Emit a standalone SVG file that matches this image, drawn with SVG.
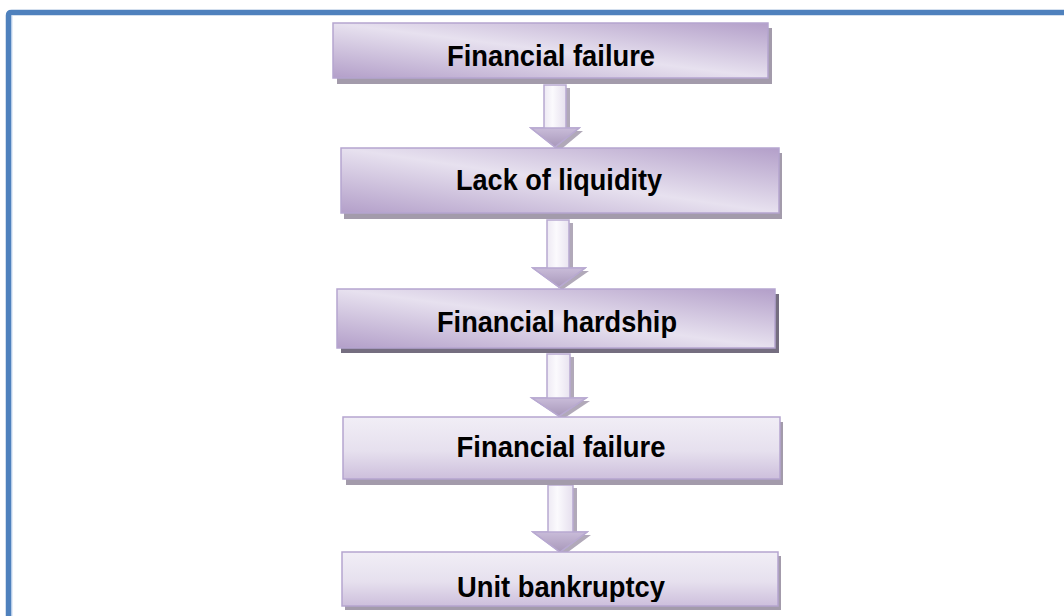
<svg xmlns="http://www.w3.org/2000/svg" width="1064" height="616" viewBox="0 0 1064 616">
  <defs>
    <!-- diagonal shading: purple corners, pale band along the main diagonal -->
    <linearGradient id="boxShade" x1="0" y1="1" x2="1" y2="0">
      <stop offset="0" stop-color="#b39fc9"/>
      <stop offset="0.5" stop-color="#e7e1ef"/>
      <stop offset="1" stop-color="#b39fc9"/>
    </linearGradient>
    <linearGradient id="boxShadeLight" x1="0" y1="0" x2="0" y2="1">
      <stop offset="0" stop-color="#f1eef6"/>
      <stop offset="0.55" stop-color="#e6e0ee"/>
      <stop offset="1" stop-color="#cdbfdc"/>
    </linearGradient>
    <linearGradient id="shaftShade" x1="0" y1="0" x2="1" y2="0">
      <stop offset="0" stop-color="#d8cfe4"/>
      <stop offset="0.45" stop-color="#fbfafd"/>
      <stop offset="1" stop-color="#d2c7e0"/>
    </linearGradient>
    <linearGradient id="headShade" x1="0" y1="0" x2="0" y2="1">
      <stop offset="0" stop-color="#c9bcd9"/>
      <stop offset="1" stop-color="#a898ba"/>
    </linearGradient>
    <clipPath id="lastClip">
      <rect x="340" y="550" width="450" height="52"/>
    </clipPath>
    <style>
      .box { stroke: #b5a5cf; stroke-width: 1.5; }
      .shadow { fill: #a39bab; }
      .label { font-family: "Liberation Sans", Arial, sans-serif; font-weight: bold; font-size: 29px; fill: #000; text-anchor: middle; }
      .arrow { fill: url(#shaftShade); stroke: #b8a9d1; stroke-width: 1.5; stroke-linejoin: miter; }
      .ashadow { fill: #b1a9b9; }
    </style>
  </defs>

  <rect width="1064" height="616" fill="#ffffff"/>

  <!-- page frame -->
  <g id="frame">
    <path d="M8.5 616 V15.5 Q8.5 12.5 11.5 12.5 H1064" fill="none" stroke="#4f81bd" stroke-width="5.5"/>
    <line x1="11.8" y1="16" x2="11.8" y2="616" stroke="#a9c3e6" stroke-width="1"/>
  </g>

  <!-- connectors: block arrows -->
  <g id="connectors">
    <g id="arrow1">
      <path class="ashadow" d="M548 88 H570 V131 H583 L559 151 L535 131 H548 Z"/>
      <path class="arrow" d="M544 85 H566 V128 H579 L555 147 L531 128 H544 Z"/>
      <path d="M531 128 H579 L555 147 Z" fill="url(#headShade)" stroke="#b8a9d1" stroke-width="1.5"/>
    </g>
    <g id="arrow2">
      <path class="ashadow" d="M551 223 H573 V271 H589 L562 290 L537 271 H551 Z"/>
      <path class="arrow" d="M547 220 H569 V268 H585 L559 287 L533 268 H547 Z"/>
      <path d="M533 268 H585 L559 287 Z" fill="url(#headShade)" stroke="#b8a9d1" stroke-width="1.5"/>
    </g>
    <g id="arrow3">
      <path class="ashadow" d="M551 357 H574 V401 H590 L563 419 L536 401 H551 Z"/>
      <path class="arrow" d="M547 354 H570 V398 H586 L559 416 L532 398 H547 Z"/>
      <path d="M532 398 H586 L559 416 Z" fill="url(#headShade)" stroke="#b8a9d1" stroke-width="1.5"/>
    </g>
    <g id="arrow4">
      <path class="ashadow" d="M552 488 H577 V535 H591 L564 555 L537 535 H552 Z"/>
      <path class="arrow" d="M548 485 H573 V532 H587 L560 552 L533 532 H548 Z"/>
      <path d="M533 532 H587 L560 552 Z" fill="url(#headShade)" stroke="#b8a9d1" stroke-width="1.5"/>
    </g>
  </g>

  <!-- nodes -->
  <g id="node1">
    <rect class="shadow" x="337" y="28" width="435" height="56"/>
    <rect class="box" x="333" y="23" width="435" height="55" fill="url(#boxShade)"/>
    <text class="label" x="551" y="66" textLength="208" lengthAdjust="spacingAndGlyphs">Financial failure</text>
  </g>

  <g id="node2">
    <rect class="shadow" x="344" y="153" width="438" height="66"/>
    <rect class="box" x="341" y="148" width="438" height="65" fill="url(#boxShade)"/>
    <text class="label" x="559" y="190" textLength="206" lengthAdjust="spacingAndGlyphs">Lack of liquidity</text>
  </g>

  <g id="node3">
    <rect x="341" y="294" width="438" height="59" fill="#756e80"/>
    <rect class="box" x="337" y="289" width="438" height="59" fill="url(#boxShade)"/>
    <text class="label" x="557" y="332" textLength="240" lengthAdjust="spacingAndGlyphs">Financial hardship</text>
  </g>

  <g id="node4">
    <rect class="shadow" x="346" y="422" width="437" height="63"/>
    <rect class="box" x="343" y="417" width="437" height="62" fill="url(#boxShadeLight)"/>
    <text class="label" x="561" y="457" textLength="209" lengthAdjust="spacingAndGlyphs">Financial failure</text>
  </g>

  <g id="node5">
    <rect class="shadow" x="345" y="556" width="436" height="54"/>
    <rect class="box" x="342" y="552" width="436" height="54" fill="url(#boxShadeLight)"/>
    <text class="label" x="561" y="597" textLength="208" lengthAdjust="spacingAndGlyphs" clip-path="url(#lastClip)">Unit bankruptcy</text>
  </g>
</svg>
